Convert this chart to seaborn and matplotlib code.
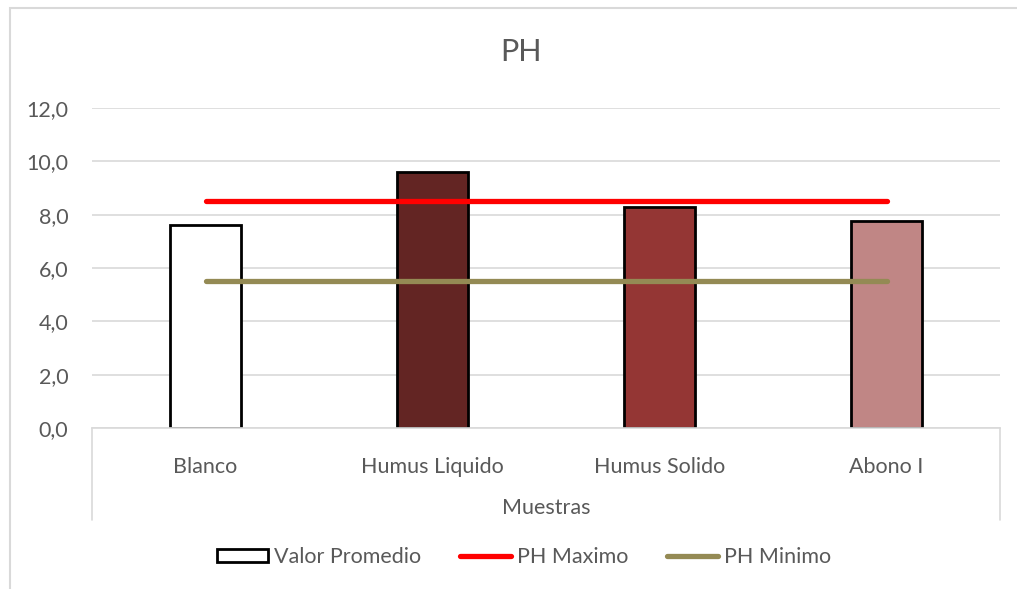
import matplotlib
matplotlib.use("Agg")
import matplotlib.pyplot as plt
import seaborn as sns
import pandas as pd
from matplotlib.lines import Line2D
from matplotlib.patches import Patch, Rectangle

# ---- data ----
categories = ["Blanco", "Humus Liquido", "Humus Solido", "Abono I"]
valor_promedio = [7.6, 9.6, 8.3, 7.75]
ph_maximo = [8.5, 8.5, 8.5, 8.5]
ph_minimo = [5.5, 5.5, 5.5, 5.5]
y_ticks = [0, 2, 4, 6, 8, 10, 12]
title = "PH"
axis_title = "Muestras"
series_names = ["Valor Promedio", "PH Maximo", "PH Minimo"]

bar_colors = ["#FFFFFF", "#632523", "#943634", "#C08685"]
max_color = "#FF0000"
min_color = "#948A54"
text_color = "#595959"
grid_color = "#D9D9D9"
fs = 15.5

sns.set_theme(style="white")
plt.rcParams["font.family"] = ["Lato", "DejaVu Sans"]

fig = plt.figure(figsize=(10.17, 5.89), dpi=100)
ax = fig.add_axes([92 / 1017, 1 - 428 / 589, (1000 - 92) / 1017, (428 - 108) / 589])

df = pd.DataFrame({"cat": categories, "val": valor_promedio})
sns.barplot(data=df, x="cat", y="val", hue="cat", palette=bar_colors,
            order=categories, hue_order=categories, width=0.317, saturation=1,
            edgecolor="black", linewidth=2, legend=False, ax=ax, zorder=2)

xs = list(range(len(categories)))
ax.plot(xs, ph_maximo, color=max_color, lw=3.8, solid_capstyle="round", zorder=3)
ax.plot(xs, ph_minimo, color=min_color, lw=3.8, solid_capstyle="round", zorder=3)

ax.set_xlim(-0.5, len(categories) - 0.5)
ax.set_ylim(0, 12)
ax.set_yticks(y_ticks)
ax.set_yticklabels([f"{v:.1f}".replace(".", ",") for v in y_ticks])
ax.yaxis.grid(True, color=grid_color, lw=1.2, zorder=0)
ax.set_axisbelow(True)
for s in ["top", "right", "left"]:
    ax.spines[s].set_visible(False)
ax.spines["bottom"].set_color(grid_color)
ax.spines["bottom"].set_linewidth(1.2)
ax.tick_params(axis="both", length=0, labelsize=fs, colors=text_color)
ax.tick_params(axis="x", pad=21)
ax.tick_params(axis="y", pad=17)
ax.set_xlabel(axis_title, fontsize=fs, color=text_color, labelpad=15)
ax.set_ylabel("")

# category axis separators
for xpix in (92, 1000):
    fig.add_artist(Line2D([xpix / 1017, xpix / 1017], [1 - 428 / 589, 1 - 520 / 589],
                          color=grid_color, lw=1.2))

# chart border
fig.add_artist(Rectangle((10 / 1017, -0.1), 1.2, 1 - 8 / 589 + 0.1, fill=False,
                         edgecolor=grid_color, lw=1.5, transform=fig.transFigure))

fig.text(0.512, 1 - 52 / 589, title, ha="center", va="center", fontsize=22, color=text_color)

handles = [Patch(facecolor="white", edgecolor="black", lw=2),
           Line2D([0], [0], color=max_color, lw=3.8, solid_capstyle="round"),
           Line2D([0], [0], color=min_color, lw=3.8, solid_capstyle="round")]
fig.legend(handles, series_names, loc="center", bbox_to_anchor=(0.515, 1 - 557 / 589),
           ncol=3, frameon=False, fontsize=fs, labelcolor=text_color,
           handlelength=2.4, handleheight=0.6, handletextpad=0.25, columnspacing=1.8)

fig.savefig("out.png", dpi=100)
